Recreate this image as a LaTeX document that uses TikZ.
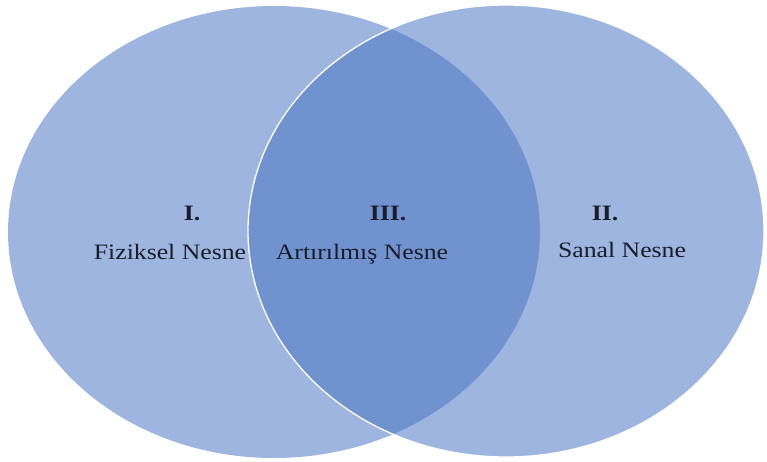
\documentclass[tikz,border=0pt]{standalone}
\usepackage{fontspec}
\setmainfont[FakeStretch=1.17]{Liberation Serif}
\definecolor{lightblue}{HTML}{9EB5E0}
\definecolor{darkblue}{HTML}{7093CF}
\definecolor{txt}{HTML}{1A1C2A}
\tikzset{
  lbl/.style={font=\fontsize{22}{26}\selectfont, text=txt, inner sep=0pt, anchor=base},
  num/.style={lbl, font=\fontsize{22}{26}\selectfont\bfseries}
}
\begin{document}
\begin{tikzpicture}[x=1pt,y=-1pt]
\useasboundingbox (0,0) rectangle (767,462);
\def\lefte{(274,232) ellipse [x radius=266, y radius=226]}
\def\righte{(506,231) ellipse [x radius=258, y radius=226]}
\fill[lightblue] \lefte;
\fill[lightblue] \righte;
\begin{scope}
  \clip \lefte;
  \fill[darkblue] \righte;
\end{scope}
\draw[white, line width=1.3pt] \righte;
\node[num] (n1) at (192,221) {I.};
\node[lbl] (t1) at (170,259) {Fiziksel Nesne};
\node[num] (n3) at (388,221) {III.};
\node[lbl] (t3) at (362,259) {Artırılmış Nesne};
\node[num] (n2) at (605,221) {II.};
\node[lbl] (t2) at (622,257) {Sanal Nesne};
\end{tikzpicture}
\end{document}
